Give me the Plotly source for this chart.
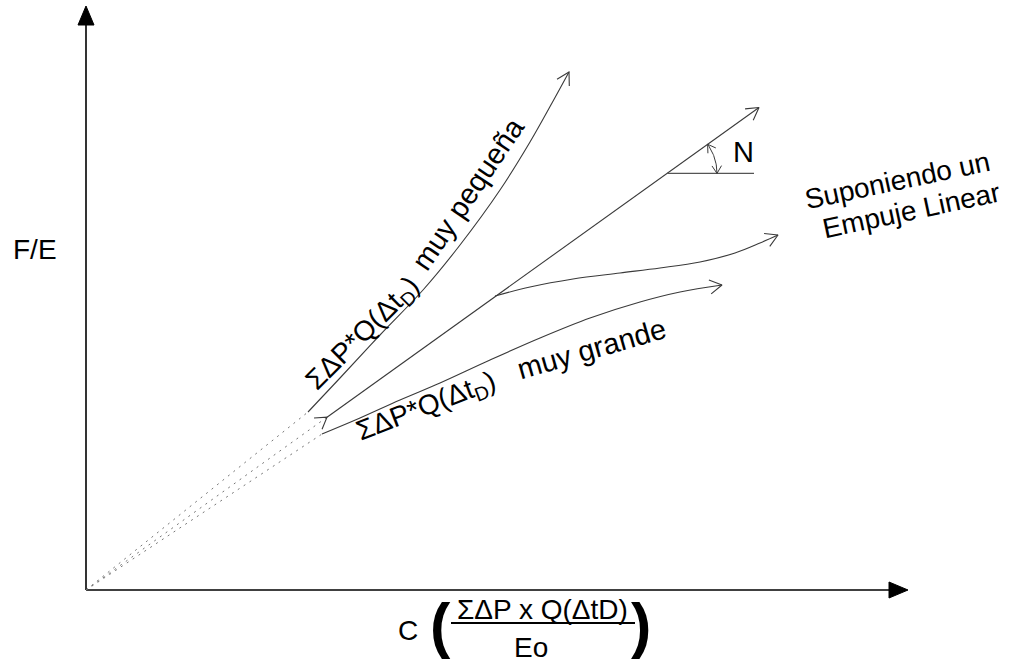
import numpy as np
import plotly.graph_objects as go

# Canvas: one unit on either axis is one screen pixel, origin at the axes corner.
W, H = 1012, 665
X_LEFT, Y_BOTTOM = -86, -75

# ---- schematic data (F/E against C·ΣΔP·Q(ΔtD)/Eo) ----
axis_x_end = 822          # tip of the horizontal axis arrow
axis_y_end = 584          # tip of the vertical axis arrow

# straight line through the origin (slope N)
linear_slope = 0.717
linear_x = [241, 673]

# ΣΔP*Q(ΔtD) very small: bends upward
pequena_x = [222, 254, 294, 337, 374, 414, 444, 466, 483]
pequena_y = [178, 212, 255, 300, 345, 400, 448, 487, 518]

# ΣΔP*Q(ΔtD) very large: bends downward
grande_x = [236, 274, 314, 354, 404, 454, 504, 554, 594, 636]
grande_y = [156, 172, 190, 207, 230, 252, 272, 288, 298, 305]

# linear-influx assumption: branches off the straight line
empuje_x = [409, 444, 487, 534, 574, 614, 649, 674, 692]
empuje_y = [294, 303, 311, 317, 322, 328, 337, 347, 355]

# vertex of the angle N and length of its horizontal reference
n_vertex_x = 581
n_ref_len = 87
n_arc_radius = 50

CURVE = "#3a3a3a"
DOTS = "#777777"

fig = go.Figure()


def add_line(xs, ys, color=CURVE, width=1.1, dash=None, shape="linear"):
    fig.add_trace(go.Scatter(
        x=xs, y=ys, mode="lines", hoverinfo="skip", showlegend=False,
        line=dict(color=color, width=width, dash=dash, shape=shape, smoothing=1.0),
    ))


def open_head(tip, prev, length=14, half=30, width=1.1, color=CURVE):
    tip = np.asarray(tip, float)
    prev = np.asarray(prev, float)
    d = tip - prev
    back = np.arctan2(d[1], d[0]) + np.pi
    h = np.radians(half)
    p1 = tip + length * np.array([np.cos(back + h), np.sin(back + h)])
    p2 = tip + length * np.array([np.cos(back - h), np.sin(back - h)])
    add_line([p1[0], tip[0], p2[0]], [p1[1], tip[1], p2[1]], color=color, width=width)


def solid_head(tip, prev, length=19, half_width=8):
    tip = np.asarray(tip, float)
    prev = np.asarray(prev, float)
    d = (tip - prev) / np.linalg.norm(tip - prev)
    n = np.array([-d[1], d[0]])
    base = tip - length * d
    a = base + half_width * n
    b = base - half_width * n
    fig.add_trace(go.Scatter(
        x=[tip[0], a[0], b[0], tip[0]], y=[tip[1], a[1], b[1], tip[1]],
        mode="lines", fill="toself", fillcolor="black", hoverinfo="skip",
        showlegend=False, line=dict(color="black", width=1),
    ))


# axes
add_line([0, 0], [0, axis_y_end - 16], color="black", width=1.6)
add_line([0, axis_x_end - 16], [0, 0], color="black", width=1.6)
solid_head((0, axis_y_end), (0, 0))
solid_head((axis_x_end, 0), (0, 0))

# dotted lead-in from the origin to each curve
lin_start = (linear_x[0], linear_slope * linear_x[0])
for ex, ey in [(pequena_x[0], pequena_y[0]), lin_start, (grande_x[0], grande_y[0])]:
    add_line([0, ex], [0, ey], color=DOTS, width=1.0, dash="2px,5px")

# straight line with arrowheads at both of its ends
lin_y = [linear_slope * v for v in linear_x]
add_line(linear_x, lin_y)
open_head((linear_x[0], lin_y[0]), (linear_x[0] - 10, lin_y[0] - 10 * linear_slope), length=13, half=32)
open_head((linear_x[1], lin_y[1]), (linear_x[1] - 10, lin_y[1] - 10 * linear_slope))

# curved responses
for cx, cy in [(pequena_x, pequena_y), (grande_x, grande_y), (empuje_x, empuje_y)]:
    add_line(cx, cy, shape="spline")
    open_head((cx[-1], cy[-1]), (cx[-2], cy[-2]))

# angle N: horizontal reference and double-headed arc
n_vertex_y = linear_slope * n_vertex_x
add_line([n_vertex_x, n_vertex_x + n_ref_len], [n_vertex_y, n_vertex_y], color="#555555", width=1.4)
theta = np.linspace(0, np.arctan(linear_slope), 30)
arc_x = n_vertex_x + n_arc_radius * np.cos(theta)
arc_y = n_vertex_y + n_arc_radius * np.sin(theta)
add_line(arc_x, arc_y, width=1.0)
open_head((arc_x[-1], arc_y[-1]), (arc_x[-4], arc_y[-4]), length=9, half=32, width=1.0)
open_head((arc_x[0], arc_y[0]), (arc_x[3], arc_y[3]), length=9, half=32, width=1.0)

SANS = "Arial, Liberation Sans, sans-serif"
ann = []


def label(text, x, y, size=28, angle=0, family=SANS, color="black", yanchor="middle"):
    ann.append(dict(
        text=text, x=x, y=y, xref="x", yref="y", showarrow=False,
        textangle=angle, xanchor="center", yanchor=yanchor, borderpad=0,
        font=dict(family=family, size=size, color=color),
    ))


label("F/E", -51, 341)
label("N", 657, 438, size=29)
label("ΣΔP*Q(Δt<sub>D</sub>)", 277, 256, size=28, angle=-45)
label("muy pequeña", 382, 396, size=29, angle=-56)
label("ΣΔP*Q(Δt<sub>D</sub>)", 340, 183, size=28, angle=-21)
label("muy grande", 505, 241, size=29, angle=-16)
label("Suponiendo un", 811, 410, angle=-12)
label("Empuje Linear", 825, 380, angle=-12)

# x-axis quantity: C ( ΣΔP x Q(ΔtD) / Eo )
label("C", 322, -40)
label("<b>(</b>", 354, Y_BOTTOM + 5, size=61, yanchor="bottom")
label("ΣΔP x Q(ΔtD)", 456, -19)
label("Eo", 445, -57)
label("<b>)</b>", 555, Y_BOTTOM + 5, size=61, yanchor="bottom")
add_line([365, 549], [-33, -33], color="black", width=2)

fig.update_layout(
    width=W, height=H,
    margin=dict(l=0, r=0, t=0, b=0),
    paper_bgcolor="white", plot_bgcolor="white",
    xaxis=dict(range=[X_LEFT, X_LEFT + W], visible=False, fixedrange=True),
    yaxis=dict(range=[Y_BOTTOM, Y_BOTTOM + H], visible=False, fixedrange=True),
    annotations=ann,
    showlegend=False,
)

fig.write_html("out.html")
